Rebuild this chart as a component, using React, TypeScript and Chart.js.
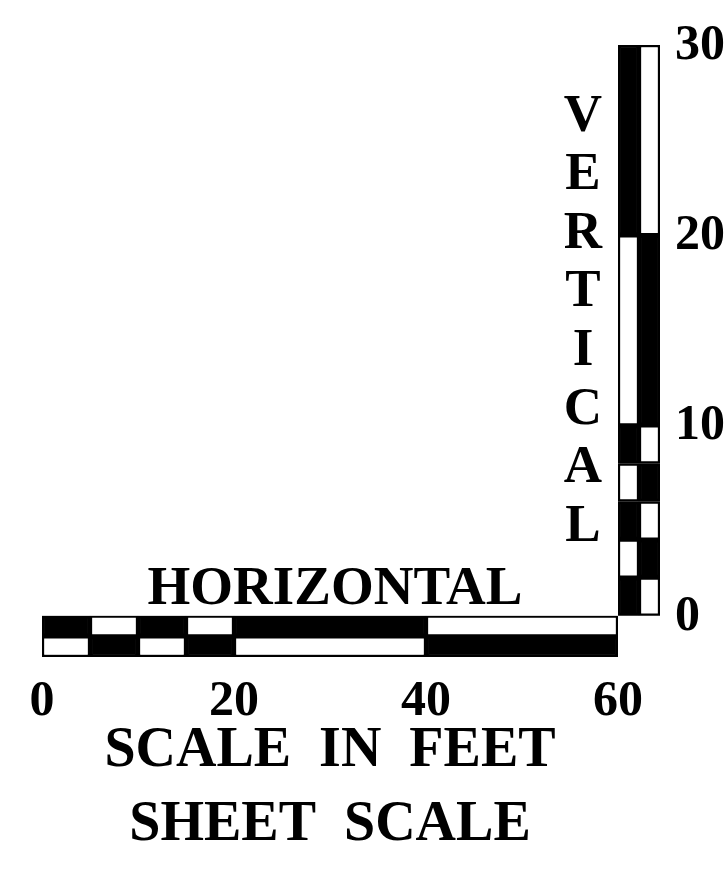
import React, { useEffect, useRef } from "react";
import { Chart, registerables } from "chart.js";

Chart.register(...registerables);

// ---- data ----
const rowCategories = ["top", "bottom"];
const columnCategories = ["left", "right"];

// horizontal scale bar (feet)
const horizontalSegments: [number, number][] = [
  [0, 5], [5, 10], [10, 15], [15, 20], [20, 40], [40, 60],
];
const topRowShades = ["black", "white", "black", "white", "black", "white"];
const bottomRowShades = ["white", "black", "white", "black", "white", "black"];

// vertical scale bar (feet)
const verticalSegments: [number, number][] = [
  [0, 2], [2, 4], [4, 6], [6, 8], [8, 10], [10, 20], [20, 30],
];
const leftColumnShades = ["black", "white", "black", "white", "black", "white", "black"];
const rightColumnShades = ["white", "black", "white", "black", "white", "black", "white"];

const horizontalTicks = [0, 20, 40, 60];
const verticalTicks = [0, 10, 20, 30];

const horizontalLabel = "HORIZONTAL";
const verticalLabel = "VERTICAL";
const bottomTitleLines = ["SCALE  IN  FEET", "SHEET  SCALE"];

// ---- styles ----
const shadeColor: Record<string, string> = { black: "#000000", white: "#ffffff" };
const FONT = "'Liberation Serif', 'DejaVu Serif', serif";

const cellStyle = {
  borderColor: "#000000",
  borderWidth: 2.5,
  borderSkipped: false as const,
  barPercentage: 1,
  categoryPercentage: 1,
  grouped: false,
};

const labelPlugin = {
  id: "scaleLabels",
  afterDatasetsDraw(chart: any) {
    const { ctx, scales } = chart;
    const x = scales.x;
    const rows = scales.yRows;
    const cols = scales.xCols;
    const y = scales.y;
    ctx.save();
    ctx.fillStyle = "#000000";
    ctx.textAlign = "center";
    ctx.font = `bold 55px ${FONT}`;
    ctx.textBaseline = "alphabetic";
    ctx.fillText(horizontalLabel, (x.left + x.right) / 2 + 5, rows.top - 12);
    ctx.font = `bold 53px ${FONT}`;
    ctx.textBaseline = "middle";
    Array.from(verticalLabel).forEach((ch, i) => {
      ctx.fillText(ch, cols.left - 35, y.top + 72 + i * 58.6);
    });
    ctx.restore();
  },
};

export default function App() {
  const canvasRef = useRef<HTMLCanvasElement | null>(null);

  useEffect(() => {
    if (!canvasRef.current) return;
    Chart.defaults.font.family = FONT;
    Chart.defaults.color = "#000000";

    const rowDataset = (row: string, shades: string[]) => ({
      type: "bar" as const,
      indexAxis: "y" as const,
      xAxisID: "x",
      yAxisID: "yRows",
      data: horizontalSegments.map((seg) => ({ x: seg, y: row })),
      backgroundColor: shades.map((s) => shadeColor[s]),
      ...cellStyle,
    });
    const colDataset = (col: string, shades: string[]) => ({
      type: "bar" as const,
      indexAxis: "x" as const,
      xAxisID: "xCols",
      yAxisID: "y",
      data: verticalSegments.map((seg) => ({ x: col, y: seg })),
      backgroundColor: shades.map((s) => shadeColor[s]),
      ...cellStyle,
    });

    const chart = new Chart(canvasRef.current, {
      type: "bar",
      data: {
        datasets: [
          rowDataset(rowCategories[0], topRowShades),
          rowDataset(rowCategories[1], bottomRowShades),
          colDataset(columnCategories[0], leftColumnShades),
          colDataset(columnCategories[1], rightColumnShades),
        ] as any,
      },
      options: {
        animation: false,
        responsive: false,
        layout: { padding: { left: 42, top: 35, right: 0, bottom: 0 } },
        plugins: {
          legend: { display: false },
          tooltip: { enabled: false },
          title: { display: false },
        },
        scales: {
          x: {
            type: "linear",
            axis: "x",
            position: "bottom",
            stack: "h",
            stackWeight: 576,
            min: 0,
            max: 60,
            offset: false,
            grid: { display: false, drawTicks: false },
            border: { display: false },
            afterBuildTicks: (s: any) => {
              s.ticks = horizontalTicks.map((v) => ({ value: v }));
            },
            afterFit: (s: any) => {
              s.height = 218;
            },
            ticks: {
              padding: 15,
              color: "#000000",
              font: { size: 50, weight: "bold", family: FONT },
              maxRotation: 0,
            },
            title: {
              display: true,
              text: bottomTitleLines,
              color: "#000000",
              font: { size: 56, weight: "bold", family: FONT, lineHeight: 1.33 },
              padding: { top: 0, bottom: 12 },
            },
          },
          xCols: {
            type: "category",
            axis: "x",
            position: "bottom",
            stack: "h",
            stackWeight: 42,
            labels: columnCategories,
            offset: true,
            grid: { display: false, drawTicks: false },
            border: { display: false },
            ticks: { display: false },
          },
          y: {
            type: "linear",
            axis: "y",
            position: "right",
            stack: "v",
            stackWeight: 580,
            min: 0,
            max: 30,
            offset: false,
            grid: { display: false, drawTicks: false },
            border: { display: false },
            afterBuildTicks: (s: any) => {
              s.ticks = verticalTicks.map((v) => ({ value: v }));
            },
            afterFit: (s: any) => {
              s.width = 68;
            },
            ticks: {
              padding: 15,
              color: "#000000",
              labelOffset: 1,
              font: { size: 50, weight: "bold", family: FONT },
            },
          },
          yRows: {
            type: "category",
            axis: "y",
            position: "right",
            stack: "v",
            stackWeight: 42,
            labels: rowCategories,
            offset: true,
            grid: { display: false, drawTicks: false },
            border: { display: false },
            ticks: { display: false },
          },
        } as any,
      },
      plugins: [labelPlugin],
    });

    return () => chart.destroy();
  }, []);

  return (
    <div style={{ position: "absolute", left: 0, top: 0, width: 728, height: 875, background: "#ffffff" }}>
      <canvas ref={canvasRef} width={728} height={875} style={{ display: "block" }} />
    </div>
  );
}
